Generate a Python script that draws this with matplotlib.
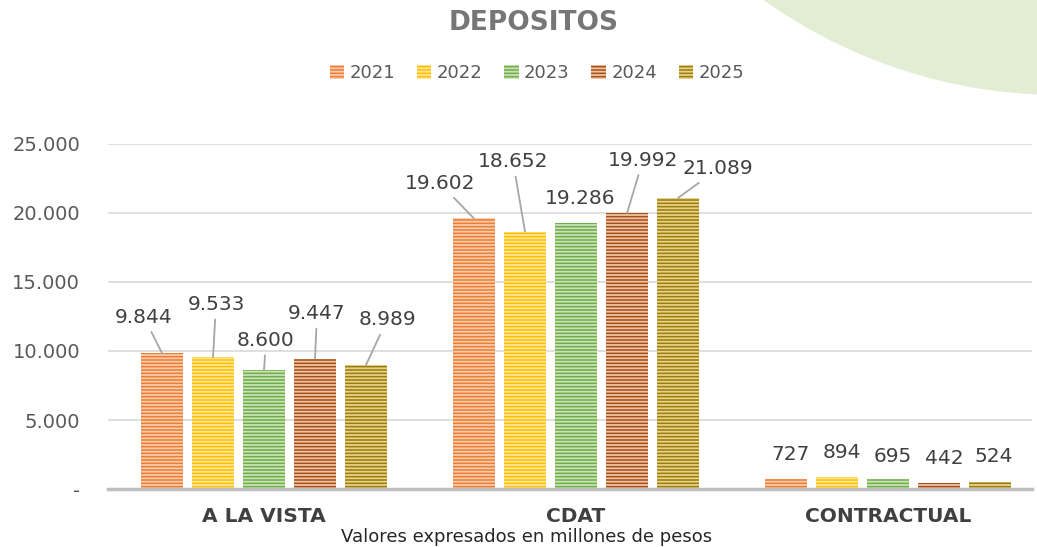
import matplotlib.pyplot as plt
from matplotlib.patches import Ellipse, Patch
from matplotlib.ticker import FuncFormatter

categorias = ['A LA VISTA', 'CDAT', 'CONTRACTUAL']
anios = ['2021', '2022', '2023', '2024', '2025']
v2021 = [9844, 19602, 727]
v2022 = [9533, 18652, 894]
v2023 = [8600, 19286, 695]
v2024 = [9447, 19992, 442]
v2025 = [8989, 21089, 524]
series = [v2021, v2022, v2023, v2024, v2025]

colores = ['#ED7D31', '#FFC000', '#70AD47', '#A5501A', '#9C7A0C']
rayas = ['#F8CBAD', '#FFE699', '#C9E2B8', '#F2C3A3', '#E6D38A']

# desplazamiento de las etiquetas (pixeles) por serie y categoria
offs = [
    [(-18, 36), (-34, 35), (5, 24)],
    [(3, 53), (-12, 70), (5, 24)],
    [(2, 30), (4, 24), (5, 23)],
    [(2, 45), (16, 53), (5, 24)],
    [(21, 45), (40, 29), (4, 25)],
]

plt.rcParams['font.family'] = ['DejaVu Sans']
plt.rcParams['hatch.linewidth'] = 1.3

fig = plt.figure(figsize=(10.37, 5.47), dpi=100)
fig.patches.append(Ellipse((1060 / 1037, 1 + 415 / 547), 2 * 510 / 1037, 2 * 510 / 547,
                           transform=fig.transFigure, facecolor='#E3EDD4', edgecolor='none', zorder=0))

ax = fig.add_axes([108 / 1037, 1 - 489 / 547, (1032 - 108) / 1037, 345 / 547])
ax.set_facecolor('none')

paso = 51 / 312
ancho = 42 / 312
x = list(range(len(categorias)))
for i, (vals, c, r) in enumerate(zip(series, colores, rayas)):
    pos = [xx + (i - 2) * paso for xx in x]
    ax.bar(pos, vals, width=ancho, color=c, edgecolor=r, linewidth=0, hatch='-----', zorder=3)
    for j, v in enumerate(vals):
        dx, dy = offs[i][j]
        flecha = None
        if dy >= 28:
            flecha = dict(arrowstyle='-', color='#A6A6A6', lw=1.3, shrinkA=2, shrinkB=0)
        ax.annotate(f'{v:,}'.replace(',', '.'), xy=(pos[j], v), xytext=(dx, dy),
                    textcoords='offset pixels', ha='center', va='center', fontsize=14.5,
                    color='#404040', arrowprops=flecha)

ax.set_xlim(-0.5, -0.5 + (1032 - 108) / 312)
ax.set_ylim(0, 25000)
ax.set_yticks(range(0, 25001, 5000))
ax.yaxis.set_major_formatter(FuncFormatter(lambda v, p: '-' if v == 0 else f'{int(v):,}'.replace(',', '.')))
ax.set_xticks(x)
ax.set_xticklabels(categorias, fontsize=14.5, fontweight='bold', color='#404040')
ax.tick_params(axis='x', length=0, pad=13)
ax.tick_params(axis='y', length=0, pad=20, labelsize=14, labelcolor='#595959')
ax.grid(axis='y', color='#D9D9D9', linewidth=1.2, zorder=0)
for s in ['top', 'right', 'left']:
    ax.spines[s].set_visible(False)
ax.spines['bottom'].set_color('#BFBFBF')
ax.spines['bottom'].set_linewidth(2.5)
ax.spines['bottom'].set_zorder(4)

fig.text(534 / 1037, 1 - 23 / 547, 'DEPOSITOS', ha='center', va='center',
         fontsize=19, fontweight='bold', color='#767676')

handles = [Patch(facecolor=c, edgecolor=r, linewidth=0, hatch='-----') for c, r in zip(colores, rayas)]
fig.legend(handles, anios, loc='center', bbox_to_anchor=(537 / 1037, 1 - 73 / 547), ncol=5,
           frameon=False, fontsize=13, handlelength=0.8, handleheight=0.8,
           handletextpad=0.3, columnspacing=1.2, labelcolor='#595959')

fig.text(527 / 1037, 1 - 537 / 547, 'Valores expresados en millones de pesos', ha='center',
         va='center', fontsize=13, color='#262626')

fig.savefig('out.png', dpi=100)
